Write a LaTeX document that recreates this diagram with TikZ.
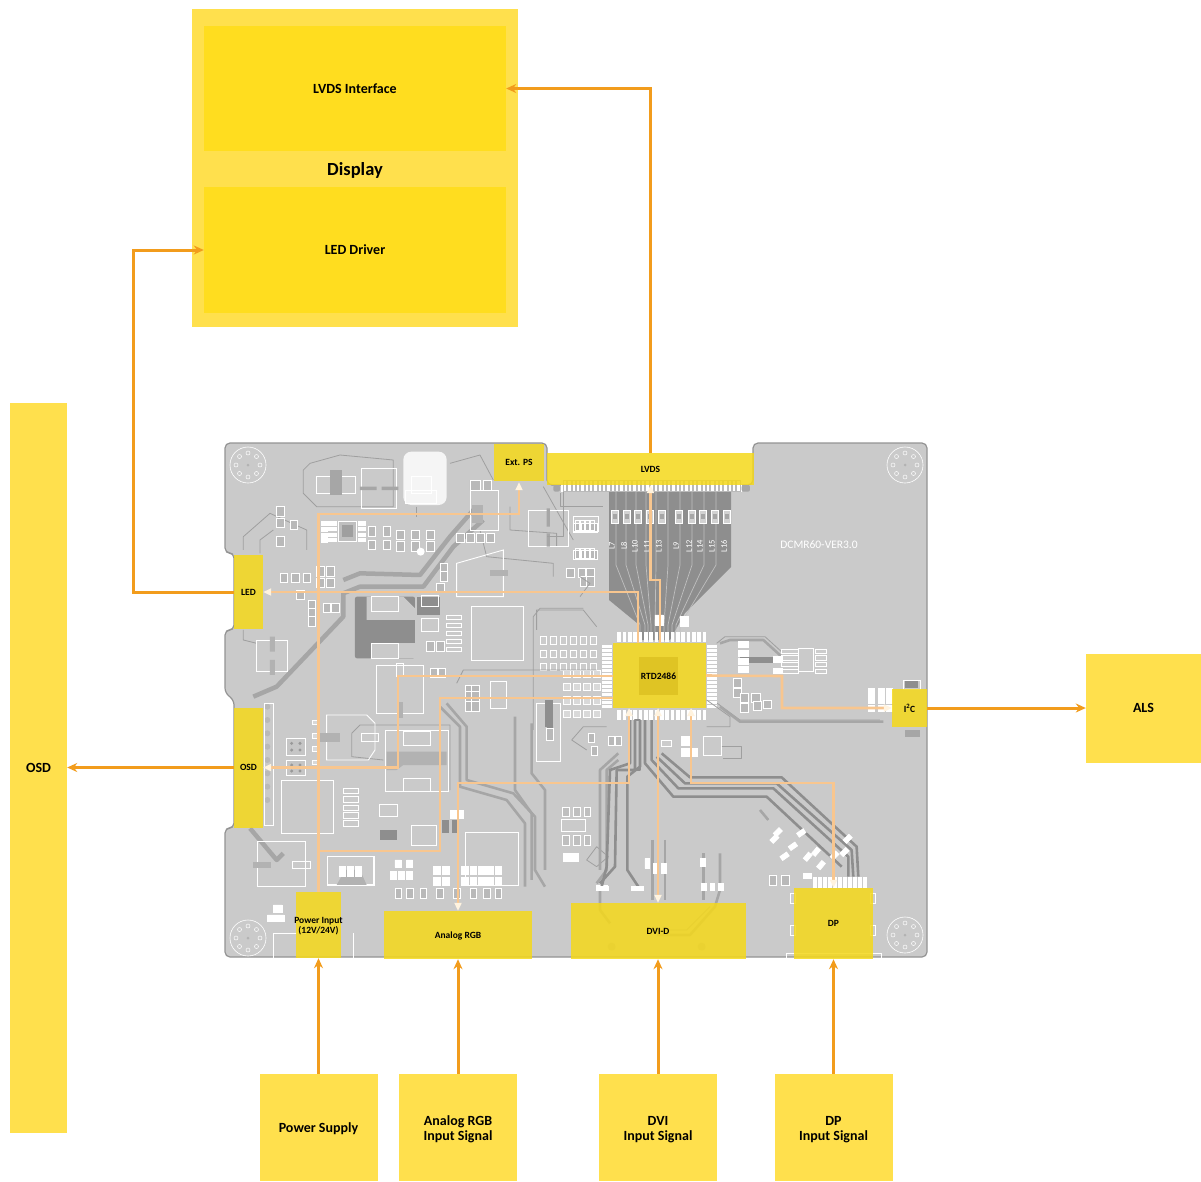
\documentclass[tikz,border=0pt]{standalone}
\usepackage{fontspec}
\setmainfont{Carlito}
\usetikzlibrary{arrows.meta,calc,positioning}
\definecolor{panelyellow}{HTML}{FFE04D}
\definecolor{coreyellow}{HTML}{FFDD1F}
\definecolor{boardyellow}{HTML}{F4D81C}
\definecolor{chipyellow}{HTML}{DFC424}
\definecolor{wireorange}{HTML}{F29C1C}
\definecolor{palewire}{HTML}{F8C68F}
\definecolor{paletip}{HTML}{FFF3DF}
\definecolor{boardgray}{HTML}{CACACA}
\definecolor{traceA}{HTML}{8E8E8E}
\definecolor{traceB}{HTML}{A6A6A6}
\tikzset{
  panel/.style={fill=panelyellow,inner sep=0pt,text depth=0pt,font=\bfseries\fontsize{14}{15}\selectfont,align=center},
  twoline/.style={label={[font=\bfseries\fontsize{14}{14.5}\selectfont,align=center,yshift=-2pt]center:#1}},
  corebox/.style={fill=coreyellow,inner sep=0pt,text depth=0pt,font=\bfseries\fontsize{14}{15}\selectfont},
  overlay/.style={fill=boardyellow,fill opacity=0.86,text opacity=1,inner sep=0pt,text depth=0pt,font=\bfseries\fontsize{9.5}{10}\selectfont,align=center},
  smalltwoline/.style={label={[inner sep=0pt,font=\bfseries\fontsize{9.5}{9.5}\selectfont,align=center,yshift=-1pt]center:#1}},
  wire/.style={draw=wireorange,line width=3pt,-{Stealth[length=10pt,width=9pt]}},
  palewire/.style={draw=palewire,line width=2.6pt,line join=miter},
  tipin/.style={-{Triangle[length=8pt,width=7pt,color=paletip,fill=paletip]}},
  tipboth/.style={{Triangle[length=8pt,width=7pt,color=paletip,fill=paletip]}-{Triangle[length=8pt,width=7pt,color=paletip,fill=paletip]}},
  trc/.style={draw=traceA,line width=2.6pt,line join=round},
  trcb/.style={draw=traceB,line width=2.6pt,line join=round},
  band/.style={draw=traceB,line width=4.5pt,line join=round},
  hair/.style={draw=gray!75,line width=0.8pt,line join=round},
  silk/.style={draw=white,line width=0.9pt},
  part/.style={draw=white,line width=0.8pt,fill=gray!55},
  zone/.style={shift={#1},x=0.3333pt,y=-0.3333pt},
}
\begin{document}
\begin{tikzpicture}[x=1pt,y=-1pt,>=Stealth]
  \useasboundingbox (0,0) rectangle (1201,1181);

  % board
  \fill[boardgray,draw=gray!85,line width=1.2pt,rounded corners=5pt]
    (225,443) -- (547,443) -- (547,485) -- (753,485) -- (753,443) -- (927,443)
    -- (927,957) -- (225,957) -- (225,828) -- (234,828) -- (234,700) -- (225,693)
    -- (225,630) -- (234,630) -- (234,553) -- (225,553) -- cycle;

  % LVDS fan out
  \fill[traceA] (609,485) -- (731,485) -- (731,567) -- (685,613) -- (670,640)
    -- (640,640) -- (637,623) -- (609,600) -- cycle;
  \foreach \x/\u in {616/640,626/645,636/648,646/651,656/655,668/664,680/668,692/672,704/676,716/680} {
    \draw[draw=gray!50,line width=0.7pt] (\x,486) -- (\x,565) -- (\u,625) -- (\u,640);
  }
  \foreach \x/\l in {615/L7,627/L8,638/L10,650/L11,662/L13,679/L9,692/L12,703/L14,715/L15,727/L16} {
    \draw[part,fill=gray!35] (\x-3.5,510) rectangle (\x+3.5,523);
    \fill[gray!70] (\x-2,514) rectangle (\x+2,519);
    \node[white,rotate=90,inner sep=0pt,font=\fontsize{8.5}{8}\selectfont] (lab\l) at (\x-3,546) {\l};
  }
  \node[white,inner sep=0pt,font=\fontsize{11.5}{11}\selectfont] (version) at (819,545) {DCMR60-VER3.0};

  % mounting holes
  \foreach \x/\y in {248/465,905/465,248/938,905/935} {
    \draw[white,line width=0.6pt] (\x,\y) circle (18pt);
    \fill[gray!60] (\x,\y) circle (1.5pt);
    \foreach \a in {0,45,...,315} {
      \draw[white,line width=0.5pt] ($(\x,\y)+(\a:12pt)$) circle (2pt);
    }
  }

  % upper left area
  \begin{scope}[zone={(220,430)}]
    \draw[band] (100,800) -- (170,770) -- (370,560) -- (370,490) -- (420,470) -- (610,470) -- (700,350) -- (790,270);
    \draw[band] (370,450) -- (420,430) -- (600,435) -- (690,320) -- (760,240);
    \draw[hair] (250,120) -- (250,190) -- (290,230) -- (520,230) -- (520,90) -- (360,75) -- (270,100) -- cycle;
    \draw[hair] (70,360) -- (70,320) -- (150,250) -- (260,300) -- (260,360);
    \draw[hair] (120,370) -- (120,330) -- (160,300);
    \draw[hair] (70,600) -- (70,630) -- (110,640);
    \draw[hair] (690,100) -- (780,75) -- (820,150);
    \draw[hair] (780,300) -- (800,380) -- (1000,400) -- (1000,440);
    \draw[hair] (870,230) -- (870,300) -- (1010,310) -- (1010,350);
    \draw[hair] (970,170) -- (1060,330);
    \draw[hair] (1020,190) -- (1020,230) -- (1150,230);
    \draw[hair] (950,600) -- (950,540) -- (1090,540) -- (1130,590);
    \fill[white!92!gray,rounded corners=8pt] (550,65) rectangle (680,225);
    \draw[silk] (575,140) rectangle (635,190);
    \draw[silk] (555,180) rectangle (650,220);
    \draw[hair] (590,230) -- (590,260);
    \draw[silk] (290,140) -- (290,190) -- (405,190) -- (405,140) -- cycle;
    \fill[gray!70] (330,120) rectangle (365,195);
    \draw[silk] (425,115) rectangle (530,235);
    \fill[gray!70] (420,170) rectangle (470,180) (485,170) rectangle (535,180);
    \draw[silk] (750,180) rectangle (835,300);
    \draw[part] (750,150) rectangle (780,180) (790,150) rectangle (815,180);
    \fill[gray!60] (755,225) rectangle (790,280);
    \draw[silk] (925,240) rectangle (1045,350);
    \fill[gray!70] (980,235) rectangle (990,290) (980,310) rectangle (990,350);
    \draw[part,fill=gray!50] (355,275) rectangle (410,335);
    \fill[gray!75] (365,285) rectangle (398,320);
    \foreach \y in {275,292,310,325} {
      \draw[part,fill=white] (305,\y) rectangle ++(16,12) (325,\y) rectangle ++(25,10) (415,\y) rectangle ++(22,10);
    }
    % power stage
    \fill[traceA,rounded corners=2pt] (405,500) -- (585,500) -- (585,685) -- (405,685) -- cycle;
    \fill[boardgray] (440,570) -- (440,500) -- (550,500) -- (585,535) -- (585,570) -- cycle;
    \draw[silk] (455,500) rectangle (535,545);
    \fill[boardgray] (455,640) rectangle (585,685);
    \draw[silk] (455,640) rectangle (535,685);
    \fill[traceA] (590,500) rectangle (660,555);
    \draw[silk] (605,495) rectangle (655,530) (605,565) rectangle (655,605);
    \foreach \y in {555,580,603,628,652} {\draw[part,fill=boardgray] (680,\y) rectangle (725,\y+13);}
    \draw[silk,line width=1.1pt] (755,530) rectangle (910,692);
    \draw[silk] (710,400) -- (850,360) -- (850,500) -- (710,500) -- cycle;
    \fill[gray!60] (810,420) rectangle (865,438);
    \draw[silk] (110,630) rectangle (203,725);
    \fill[gray!60] (150,620) rectangle (165,665) (150,690) rectangle (165,735);
    \draw[silk] (470,705) -- (610,705) -- (610,850) -- (470,850) -- cycle;
    \fill[gray!60] (530,815) rectangle (550,865);
    \draw[silk] (530,700) rectangle (550,740);
    \draw[silk] (810,755) rectangle (860,835);
    \foreach \x/\y in {170/230,170/265,170/320,210/270,290/410,320/410,290/445,320/445,180/430,215/430,250/430,
      230/480,265/510,265/535,265/560,310/520,335/520,530/300,575/300,620/300,530/335,575/335,620/335,
      445/290,490/290,445/330,490/330,710/310,740/310,770/310,800/310,660/400,660/425,650/460,
      620/635,650/635,630/715,655/715,735/765,755/765,735/785,755/785,735/815,755/815,1040/415,1075/415,1100/415,
      1080/440,1100/440,1060/280,1085/280,1110/280,1060/360,1085/360,1110/360} {
      \draw[part] (\x,\y) rectangle ++(22,28);
    }
    \foreach \x in {960,990,1020,1050,1080,1110} {
      \foreach \y in {620,660,700} {\draw[part,fill=gray!40] (\x,\y) rectangle ++(18,22);}
    }
    \foreach \x in {1030,1060,1090,1120} {
      \foreach \y in {720,760,800,840} {\draw[part,fill=gray!30] (\x,\y) rectangle ++(20,22);}
    }
    \fill[traceA] (980,810) rectangle (1000,900);
    \draw[hair] (940,900) -- (940,560) -- (960,535) -- (1090,535);
    \draw[hair] (710,760) -- (730,720) -- (1130,720);
    \fill[white] (602,365) circle (12);
  \end{scope}

  % lower left area
  \begin{scope}[zone={(220,690)}]
    \draw[band] (90,415) -- (170,510) -- (190,490);
    \draw[hair] (395,130) -- (420,105) -- (690,105) -- (690,300);
    \draw[hair] (395,130) -- (395,200) -- (490,210);
    \draw[trcb] (680,40) -- (740,110) -- (740,270) -- (880,310) -- (945,380) -- (945,540) -- (975,590);
    \draw[trcb] (660,50) -- (720,110) -- (720,290) -- (860,330) -- (915,400) -- (915,590);
    \draw[trcb] (885,80) -- (885,300) -- (935,370) -- (935,570);
    \draw[trcb] (935,100) -- (935,250) -- (975,300) -- (975,540);
    \draw[silk] (320,75) -- (320,210) -- (445,210) -- (465,180) -- (465,100) -- (440,75) -- cycle;
    \fill[gray!60] (300,130) rectangle (360,155);
    \draw[silk] (425,130) rectangle (475,155);
    \draw[silk] (495,120) rectangle (685,305);
    \fill[gray!60] (500,185) -- (680,185) -- (680,225) -- (550,225) -- (530,240) -- (500,240) -- cycle;
    \draw[silk] (550,265) rectangle (630,305);
    \draw[silk] (550,125) rectangle (630,165);
    \draw[silk] (185,270) rectangle (340,430);
    \foreach \y in {295,320,345,368,392} {\draw[part,fill=boardgray] (370,\y) rectangle (415,\y+16);}
    \draw[silk] (478,342) rectangle (532,380);
    \fill[traceA] (480,420) rectangle (530,450);
    \draw[silk] (113,455) -- (255,455) -- (255,590) -- (113,590) -- cycle;
    \fill[gray!60] (98,515) rectangle (152,535);
    \draw[silk] (218,515) rectangle (270,535);
    \draw[silk,line width=1.4pt] (322,500) rectangle (462,585);
    \fill[gray!60] (375,540) -- (420,540) -- (440,585) -- (350,585) -- cycle;
    \foreach \x in {358,382,405} {\draw[part,fill=white] (\x,530) rectangle ++(18,28);}
    \draw[silk] (160,730) -- (160,805) (400,730) -- (400,805) (160,730) -- (230,730);
    \draw[silk] (575,405) rectangle (650,465);
    \draw[silk] (735,428) rectangle (895,585);
    \foreach \x in {640,668,725,750,775,800,825} {
      \foreach \y in {528,562} {\draw[part,fill=white] (\x,\y) rectangle ++(20,24);}
    }
    \foreach \x in {525,560,600,650,700,750,790,825} {\draw[part] (\x,595) rectangle ++(20,30);}
    \foreach \x in {510,535,560} {\draw[part,fill=white] (\x,545) rectangle ++(18,24);}
    \draw[part,fill=white] (525,510) rectangle ++(18,22) (560,510) rectangle ++(18,22);
    \foreach \x in {665,695} {\fill[traceA] (\x,390) rectangle ++(22,40);}
    \foreach \x in {690,712} {\draw[part,fill=white] (\x,360) rectangle ++(18,24);}
    \draw[part,fill=gray!45] (200,145) rectangle (255,195) (200,210) rectangle (255,255);
    \foreach \x/\y in {215/160,240/160,215/180,240/180,215/225,240/225,215/243,240/243} {\fill[gray!80] (\x,\y) circle (5);}
    \foreach \y in {90,130,170,210} {\draw[part,fill=gray!30] (278,\y) rectangle ++(14,14);}
    \foreach \y in {50,90,130,170,210,250,290,330} {\fill[gray!55] (142,\y) circle (9);}
    \draw[silk] (132,40) rectangle (160,405);
    \draw[silk] (1025,388) rectangle (1095,425);
    \foreach \x in {1028,1060,1092} {
      \draw[part,fill=gray!50] (\x,352) rectangle ++(20,28) (\x,435) rectangle ++(20,30);
    }
    \draw[part,fill=white] (1030,490) rectangle ++(20,24) (1055,490) rectangle ++(20,24);
    \draw[hair] (1100,510) -- (1130,470) -- (1165,500) -- (1130,530) -- cycle;
    \draw[silk] (950,40) rectangle (1020,215);
    \fill[traceA] (975,30) rectangle (1000,110);
    \draw[part] (978,115) rectangle (1000,150);
    \draw[trcb] (1195,210) -- (1160,240) -- (1160,540) -- (1130,580);
    \draw[trcb] (1195,190) -- (1140,240) -- (1140,540);
    \draw[part,fill=white] (1128,585) rectangle ++(35,15);
    \draw[part,fill=white] (160,645) rectangle ++(26,22) (142,675) rectangle ++(50,20);
  \end{scope}

  % upper right area
  \begin{scope}[zone={(540,430)}]
    \draw[hair] (530,640) -- (555,620) -- (675,620) -- (730,670);
    \draw[hair] (532,820) -- (600,870) -- (1020,870);
    \draw[trcb] (540,640) -- (570,630) -- (670,630) -- (725,680);
    \draw[trcb] (540,830) -- (600,875) -- (1030,875);
    \fill[traceA] (600,680) rectangle (700,700);
    \foreach \y in {635,660,685,710} {
      \draw[part,fill=white] (595,\y) rectangle ++(30,18);
    }
    \draw[silk] (775,655) rectangle (820,725);
    \foreach \y in {660,680,700,720} {
      \draw[part,fill=gray!40] (725,\y-3) rectangle ++(50,13) (825,\y-3) rectangle ++(35,13);
    }
    \draw[part,fill=white] (700,680) rectangle ++(28,16) (700,715) rectangle ++(28,16);
    \foreach \x/\y in {580/745,580/775,600/790,635/790,600/820,640/815,670/810} {
      \draw[part] (\x,\y) rectangle ++(25,26);
    }
    \foreach \x in {985,1015,1040} {
      \foreach \y in {775,800,825} {\draw[part,fill=white] (\x,\y) rectangle ++(18,20);}
    }
    \fill[traceA] (1095,750) rectangle (1135,775);
    \draw[silk] (1090,750) rectangle (1140,778);
    \draw[part,fill=white] (345,555) rectangle ++(25,30) (420,560) rectangle ++(25,30);
    % connector pins
    \fill[white] (62,150) rectangle (605,187);
    \foreach \x in {70,83,...,600} {\draw[draw=gray!55,line width=0.5pt] (\x,150) rectangle ++(10,33);}
    \fill[gray!70,rounded corners=2pt] (40,165) rectangle (60,185) (605,165) rectangle (630,185);
    \draw[hair] (70,185) -- (70,320) -- (20,320);
    \draw[silk] (100,260) rectangle (175,305);
    \foreach \x in {105,120,135,150} {\draw[silk] (\x,270) rectangle ++(12,30);}
    \foreach \x in {105,120,135,150} {\draw[silk] (\x,355) rectangle ++(12,30);}
    \draw[hair] (120,500) -- (150,460) -- (120,440);
    % chip pins
    \foreach \x in {232,248,...,490} {
      \fill[white] (\x,605) rectangle ++(11,30);
      \fill[white] (\x,840) rectangle ++(11,30);
    }
    \foreach \y in {645,657,...,825} {
      \fill[white] (186,\y) rectangle ++(30,8);
      \fill[white] (502,\y) rectangle ++(30,8);
    }
  \end{scope}

  % lower right area
  \begin{scope}[zone={(540,690)}]
    \draw[trc] (270,90) -- (270,220) -- (210,240) -- (200,530) -- (185,590);
    \draw[trc] (285,90) -- (285,240) -- (230,240) -- (225,530) -- (180,580);
    \draw[trc] (300,90) -- (300,230) -- (262,260) -- (262,540) -- (295,590);
    \draw[trc] (315,90) -- (315,220) -- (400,320) -- (680,320) -- (905,530);
    \draw[trc] (335,90) -- (335,210) -- (415,295) -- (700,295) -- (925,500) -- (925,560);
    \draw[trc] (365,190) -- (450,262) -- (725,262) -- (950,470) -- (955,560);
    \draw[trc] (350,200) -- (435,280) -- (710,280) -- (935,480) -- (940,560);
    \draw[trc] (285,90) rectangle (300,240);
    \draw[hair] (140,180) -- (95,150) -- (130,110) -- (200,110);
    \draw[hair] (500,110) -- (570,110) -- (570,80) -- (500,30);
    \draw[trcb] (338,450) -- (338,630);
    \draw[trcb] (375,450) -- (375,630);
    \draw[trcb] (490,490) -- (490,630);
    \draw[trcb] (540,490) -- (540,600) -- (525,650) -- (450,735) -- (350,735);
    \draw[hair] (510,650) -- (440,720) -- (360,720);
    \draw[trcb] (660,360) -- (685,390);
    \draw[trcb] (180,590) -- (180,660) -- (210,700);
    \foreach \x/\y in {170/595,275/595} {\draw[part,fill=white] (\x,\y-5) rectangle ++(35,12);}
    \foreach \x/\y in {145/130,205/140,225/140,155/170} {\draw[part] (\x,\y) rectangle ++(18,26);}
    \draw[silk] (490,140) rectangle (545,195);
    \draw[part,fill=gray!40] (365,150) rectangle ++(30,20);
    \draw[part,fill=white] (425,140) rectangle ++(22,25) (425,175) rectangle ++(22,25) (450,175) rectangle ++(22,25);
    \draw[hair] (545,170) -- (605,170) -- (605,205) -- (550,205);
    \foreach \x in {485,510,535} {\draw[part,fill=white] (\x,580) rectangle ++(14,22);}
    \draw[part,fill=white] (315,505) rectangle ++(12,30) (340,520) rectangle ++(12,30) (365,520) rectangle ++(14,30);
    \draw[part,fill=white] (480,505) rectangle ++(16,25);
    \foreach \x in {820,835,...,970} {\fill[white] (\x,560) rectangle ++(10,35);}
    \draw[part] (688,555) rectangle ++(22,30) (725,555) rectangle ++(22,30);
    \foreach \x/\y/\a in {720/500/35,745/470/35,770/430/35,790/505/50,815/490/50,870/500/45,900/490/45,910/450/45,700/430/45,690/450/45,830/530/50,790/550/0} {
      \draw[part,fill=white,rotate around={\a:(\x,\y)}] (\x,\y) rectangle ++(24,14);
    }
    \draw[part,fill=gray!40] (750,610) rectangle ++(15,30) (750,705) rectangle ++(15,30)
      (990,610) rectangle ++(15,30) (990,705) rectangle ++(15,30);
    \draw[silk] (740,790) -- (740,805) (1025,790) -- (1025,805) (740,790) -- (1025,790);
    \foreach \x/\y in {215/770,485/770} {\fill[gray!60] (\x,\y) circle (12);}
    \fill[gray!70] (1095,120) rectangle (1140,140);
  \end{scope}

  % overlays on the board
  \node[overlay,minimum width=50pt,minimum height=37pt] (extps) at (519,462.5) {Ext. PS};
  \node[overlay,minimum width=207pt,minimum height=32pt] (lvds) at (650.5,469) {LVDS};
  \node[overlay,minimum width=29pt,minimum height=74pt] (led) at (248.5,592) {LED};
  \node[overlay,minimum width=29pt,minimum height=120pt] (osd) at (248.5,767.5) {OSD};
  \node[overlay,minimum width=93pt,minimum height=65pt] (rtd) at (659.5,675.5) {};
  \node[fill=chipyellow,inner sep=0pt,text depth=0pt,minimum width=39pt,minimum height=38pt,
    font=\bfseries\fontsize{9.5}{10}\selectfont] (rtdcore) at (658.5,676) {RTD2486};
  \node[overlay,minimum width=35pt,minimum height=38pt] (i2c) at (909.5,708) {I\textsuperscript{2}C};
  \node[overlay,minimum width=45pt,minimum height=66pt,smalltwoline={Power Input\\(12V/24V)}] (pwrin) at (318.5,925) {};
  \node[overlay,minimum width=148pt,minimum height=48pt] (ana) at (458,935) {Analog RGB};
  \node[overlay,minimum width=175pt,minimum height=56pt] (dvi) at (658,931) {DVI-D};
  \node[overlay,minimum width=79pt,minimum height=71pt] (dp) at (833.5,923.5) {DP};

  % display and outer blocks
  \node[panel,minimum width=326pt,minimum height=318pt] (display) at (355,168) {};
  \node[corebox,minimum width=302pt,minimum height=125pt] (lvdsif) at (355,88.5) {LVDS Interface};
  \node[corebox,minimum width=302pt,minimum height=126pt] (leddrv) at (355,250) {LED Driver};
  \node[inner sep=0pt,text depth=0pt,font=\bfseries\fontsize{18.5}{18}\selectfont] (displaylab) at (355,169) {Display};
  \node[panel,minimum width=57pt,minimum height=730pt] (osdpanel) at (38.5,767.5) {OSD};
  \node[panel,minimum width=115pt,minimum height=109pt] (als) at (1143.5,708) {ALS};
  \node[panel,minimum width=118pt,minimum height=107pt] (pwrsup) at (318.5,1127.5) {Power Supply};
  \node[panel,minimum width=118pt,minimum height=107pt,twoline={Analog RGB\\Input Signal}] (anasig) at (458,1127.5) {};
  \node[panel,minimum width=118pt,minimum height=107pt,twoline={DVI\\Input Signal}] (dvisig) at (658,1127.5) {};
  \node[panel,minimum width=118pt,minimum height=107pt,twoline={DP\\Input Signal}] (dpsig) at (833.5,1127.5) {};

  % signals on the board
  \coordinate (extturn) at (519,514);
  \coordinate (ledout) at (638,643);
  \coordinate (osdout) at (613,676);
  \coordinate (osdturn) at (398,676);
  \coordinate (busout) at (613,698);
  \coordinate (busturn) at (440,698);
  \coordinate (busend) at (318.5,851);
  \coordinate (anaout) at (629,708);
  \coordinate (anaturn) at (629,783);
  \coordinate (dviout) at (658,708);
  \coordinate (dpout) at (691,708);
  \coordinate (dpturn) at (691,783);
  \coordinate (lvdsout) at (660,643);
  \coordinate (lvdsturn) at (660,580);
  \coordinate (lvdsturnb) at (650.5,580);
  \coordinate (i2cturn) at (782,676);
  \coordinate (i2cturnb) at (782,708);
  \draw[palewire,tipin,shorten >=1pt] (pwrin.north) |- (extturn) -- (extps.south);
  \draw[palewire,tipin] (ledout) |- (led.east);
  \draw[palewire,tipin] (osdout) -- (osdturn) |- (osd.east);
  \draw[palewire] (busout) -- (busturn) |- (busend);
  \draw[palewire,tipboth] (anaout) -- (anaturn) -| (ana.north);
  \draw[palewire,tipboth] (dviout) -- (dvi.north);
  \draw[palewire,tipboth] (dpout) -- (dpturn) -| (dp.north);
  \draw[palewire,tipin] (lvdsout) -- (lvdsturn) -- (lvdsturnb) -- (lvds.south);
  \draw[palewire,tipin] (rtd.east) -- (i2cturn) -- (i2cturnb) -- (i2c.west);

  % signals to the outer blocks
  \coordinate (ledturn) at (133,592);
  \draw[wire] (lvds.north) |- (lvdsif.east);
  \draw[wire] (led.west) -- (ledturn) |- (leddrv.west);
  \draw[wire] (osd.west) -- (osdpanel.east);
  \draw[wire] (i2c.east) -- (als.west);
  \draw[wire] (pwrsup.north) -- (pwrin.south);
  \draw[wire] (anasig.north) -- (ana.south);
  \draw[wire] (dvisig.north) -- (dvi.south);
  \draw[wire] (dpsig.north) -- (dp.south);
\end{tikzpicture}
\end{document}
